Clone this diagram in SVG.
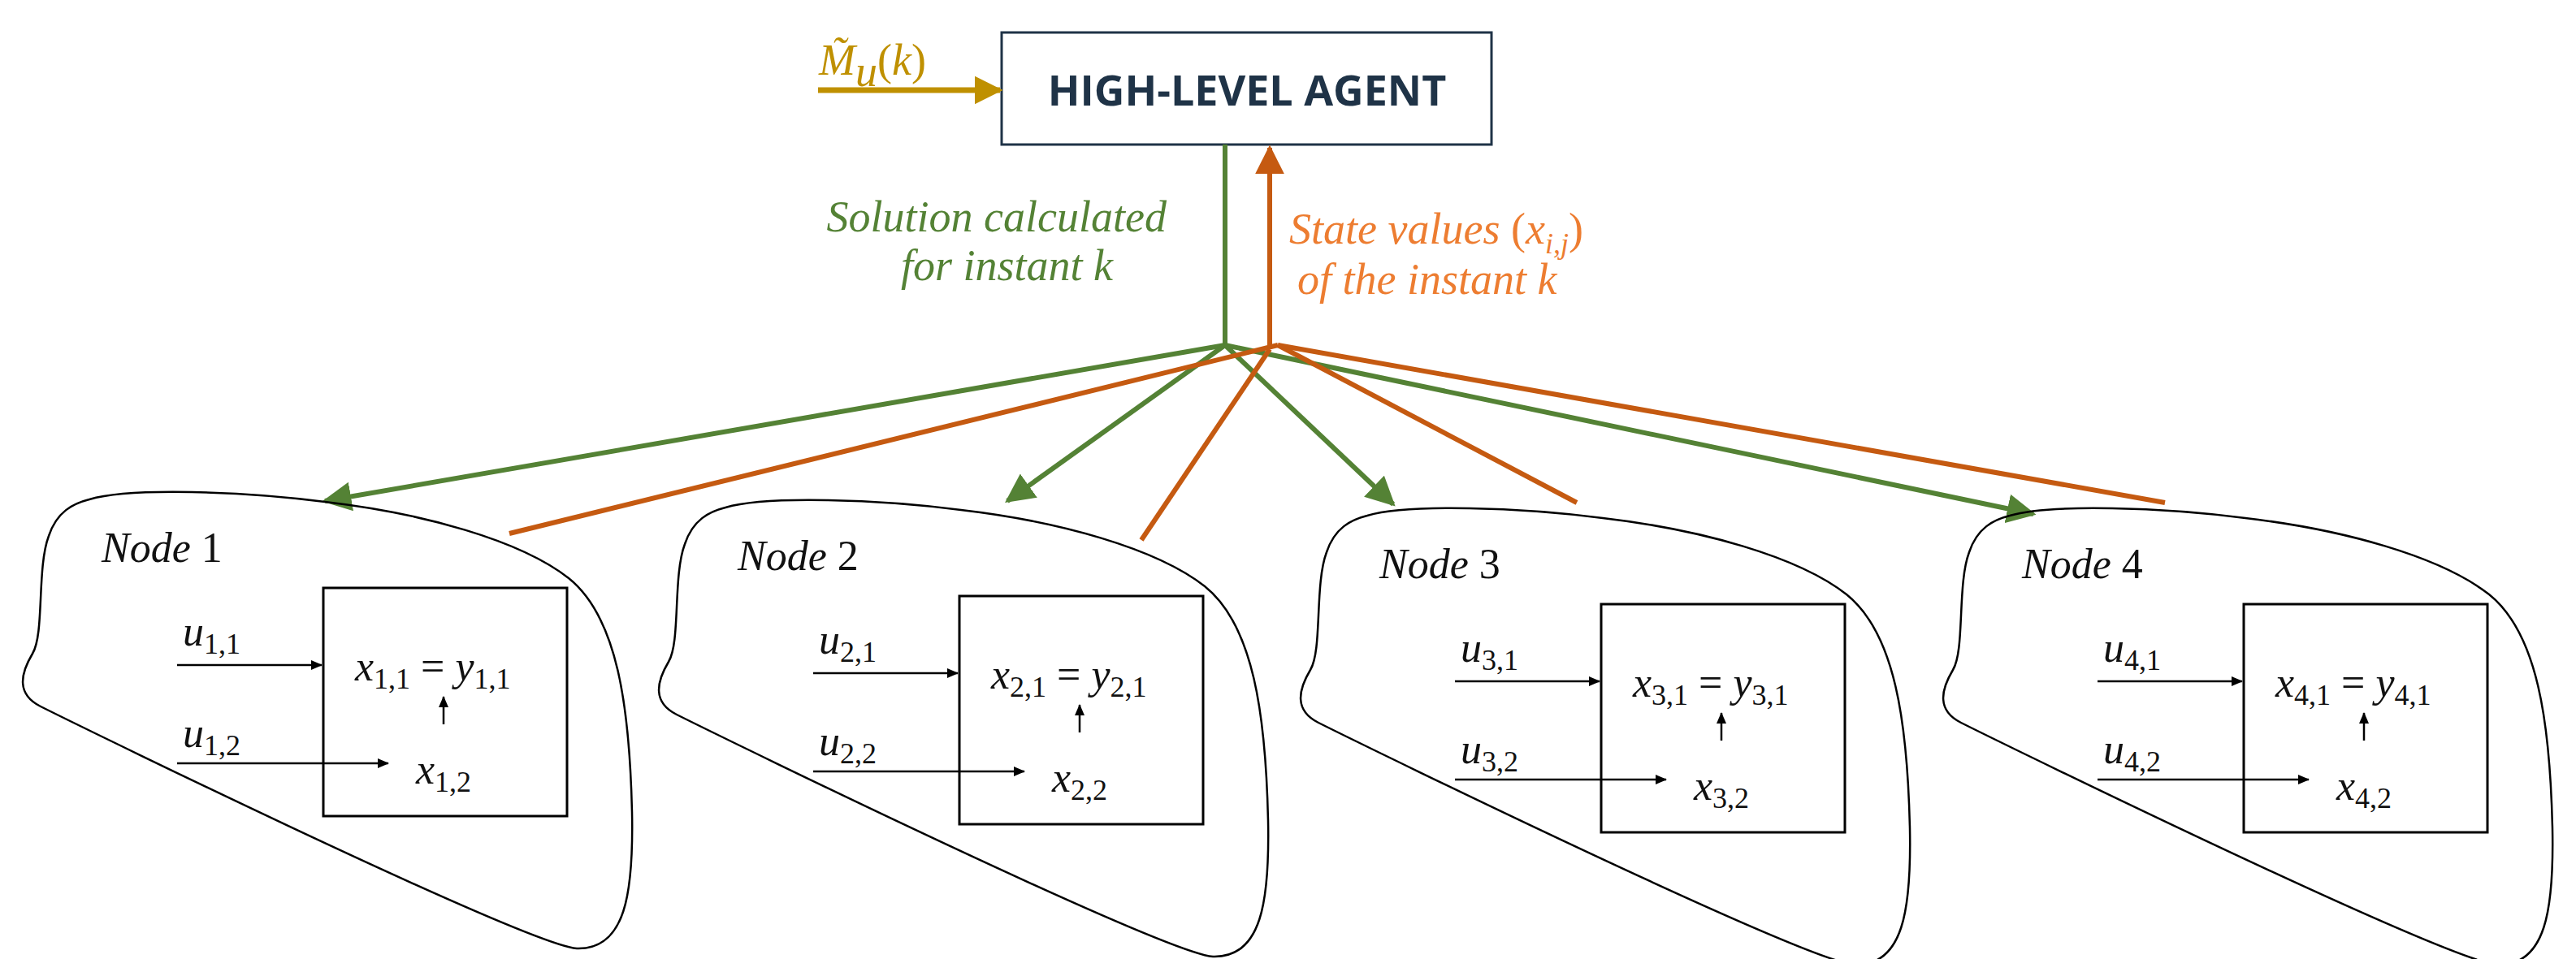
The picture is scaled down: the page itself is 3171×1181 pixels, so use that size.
<svg xmlns="http://www.w3.org/2000/svg" width="3171" height="1181" viewBox="0 0 3171 1181">
<style>
.blob{fill:none;stroke:#000;stroke-width:2.5}
.ibox{fill:none;stroke:#000;stroke-width:3}
.thin{stroke:#000;stroke-width:2.5;fill:none}
.m{font-family:"Liberation Serif",serif;font-style:italic;font-size:52px;fill:#111}
.n{font-family:"Liberation Serif",serif;font-style:normal}
.sub{font-size:36px}
.g{stroke:#548235;stroke-width:6;fill:none}
.o{stroke:#c55a11;stroke-width:6;fill:none}
.lab{font-family:"Liberation Serif",serif;font-style:italic;font-size:54px}
</style>
<defs>
<marker id="ab" markerWidth="14" markerHeight="12" refX="13" refY="6" orient="auto" markerUnits="userSpaceOnUse" viewBox="0 0 14 12"><path d="M0,0L14,6L0,12Z" fill="#000"/></marker>
<marker id="ag" viewBox="0 0 10 10" refX="9" refY="5" markerWidth="6" markerHeight="6" orient="auto"><path d="M0,0L10,5L0,10Z" fill="#548235"/></marker>
<marker id="ao" viewBox="0 0 10 10" refX="9" refY="5" markerWidth="6" markerHeight="6" orient="auto"><path d="M0,0L10,5L0,10Z" fill="#c55a11"/></marker>
<marker id="ay" viewBox="0 0 10 10" refX="9" refY="5" markerWidth="5" markerHeight="5" orient="auto"><path d="M0,0L10,5L0,10Z" fill="#bf9000"/></marker>
<g id="nodeShape">
<path class="blob" d="M110,615 C160,600 300,605 400,618 C520,632 640,665 700,712 C760,760 775,870 778,1000 C780,1100 770,1170 710,1168 C650,1164 120,905 50,870 C20,855 25,830 40,805 C55,780 45,700 60,660 C70,630 90,620 110,615 Z"/>
<rect class="ibox" x="398" y="724" width="300" height="281"/>
<line class="thin" x1="218" y1="819" x2="396" y2="819" marker-end="url(#ab)"/>
<line class="thin" x1="218" y1="940" x2="478" y2="940" marker-end="url(#ab)"/>
<line class="thin" x1="546" y1="892" x2="546" y2="858" marker-end="url(#ab)"/>
</g>
</defs>

<g id="high-level-agent">
<rect x="1233" y="40" width="603" height="138" fill="#fff" stroke="#1f3347" stroke-width="3"/>
<text x="1535" y="130" text-anchor="middle" font-family="'Open Sans','Liberation Sans',sans-serif" font-weight="bold" font-size="52" fill="#1f3347">HIGH-LEVEL AGENT</text>
</g>

<g id="input-mu">
<text x="1008" y="92" class="lab" fill="#bf9000" font-size="78">M̃<tspan font-size="54" dy="14">u</tspan><tspan class="n" dy="-14">(</tspan>k<tspan class="n">)</tspan></text>
</g>

<g id="connectors">
<line x1="1007" y1="111" x2="1231" y2="111" stroke="#bf9000" stroke-width="7" marker-end="url(#ay)"/>
<line class="g" x1="1508" y1="178" x2="1508" y2="425"/>
<line class="o" x1="1563" y1="425" x2="1563" y2="182" marker-end="url(#ao)"/>
<line class="g" x1="1508" y1="425" x2="400" y2="617" marker-end="url(#ag)"/>
<line class="g" x1="1508" y1="425" x2="1240" y2="617" marker-end="url(#ag)"/>
<line class="g" x1="1508" y1="425" x2="1715" y2="621" marker-end="url(#ag)"/>
<line class="g" x1="1508" y1="425" x2="2503" y2="633" marker-end="url(#ag)"/>
<line class="o" x1="1573" y1="425" x2="627" y2="657"/>
<line class="o" x1="1563" y1="430" x2="1405" y2="665"/>
<line class="o" x1="1573" y1="425" x2="1941" y2="619"/>
<line class="o" x1="1573" y1="425" x2="2665" y2="619"/>
</g>

<g id="labels">
<text class="lab" fill="#548235" text-anchor="end"><tspan x="1436" y="285">Solution calculated</tspan><tspan x="1370" y="345">for instant k</tspan></text>
<text class="lab" fill="#ed7d31"><tspan x="1587" y="300">State values <tspan class="n">(</tspan>x<tspan font-size="36" dy="12">i,j</tspan><tspan class="n" dy="-12">)</tspan></tspan><tspan x="1597" y="362">of the instant k</tspan></text>
</g>

<g id="node1">
<use href="#nodeShape"/>
<text class="m" x="125" y="692">Node <tspan class="n">1</tspan></text>
<text class="m" x="225" y="795">u<tspan class="n sub" dy="10">1,1</tspan></text>
<text class="m" x="225" y="920">u<tspan class="n sub" dy="10">1,2</tspan></text>
<text class="m" x="437" y="838">x<tspan class="n sub" dy="10">1,1</tspan><tspan class="n" dy="-10"> = </tspan>y<tspan class="n sub" dy="10">1,1</tspan></text>
<text class="m" x="512" y="965">x<tspan class="n sub" dy="10">1,2</tspan></text>
</g>
<g id="node2" transform="translate(783,10)">
<use href="#nodeShape"/>
<text class="m" x="125" y="692">Node <tspan class="n">2</tspan></text>
<text class="m" x="225" y="795">u<tspan class="n sub" dy="10">2,1</tspan></text>
<text class="m" x="225" y="920">u<tspan class="n sub" dy="10">2,2</tspan></text>
<text class="m" x="437" y="838">x<tspan class="n sub" dy="10">2,1</tspan><tspan class="n" dy="-10"> = </tspan>y<tspan class="n sub" dy="10">2,1</tspan></text>
<text class="m" x="512" y="965">x<tspan class="n sub" dy="10">2,2</tspan></text>
</g>
<g id="node3" transform="translate(1573,20)">
<use href="#nodeShape"/>
<text class="m" x="125" y="692">Node <tspan class="n">3</tspan></text>
<text class="m" x="225" y="795">u<tspan class="n sub" dy="10">3,1</tspan></text>
<text class="m" x="225" y="920">u<tspan class="n sub" dy="10">3,2</tspan></text>
<text class="m" x="437" y="838">x<tspan class="n sub" dy="10">3,1</tspan><tspan class="n" dy="-10"> = </tspan>y<tspan class="n sub" dy="10">3,1</tspan></text>
<text class="m" x="512" y="965">x<tspan class="n sub" dy="10">3,2</tspan></text>
</g>
<g id="node4" transform="translate(2364,20)">
<use href="#nodeShape"/>
<text class="m" x="125" y="692">Node <tspan class="n">4</tspan></text>
<text class="m" x="225" y="795">u<tspan class="n sub" dy="10">4,1</tspan></text>
<text class="m" x="225" y="920">u<tspan class="n sub" dy="10">4,2</tspan></text>
<text class="m" x="437" y="838">x<tspan class="n sub" dy="10">4,1</tspan><tspan class="n" dy="-10"> = </tspan>y<tspan class="n sub" dy="10">4,1</tspan></text>
<text class="m" x="512" y="965">x<tspan class="n sub" dy="10">4,2</tspan></text>
</g>
</svg>
